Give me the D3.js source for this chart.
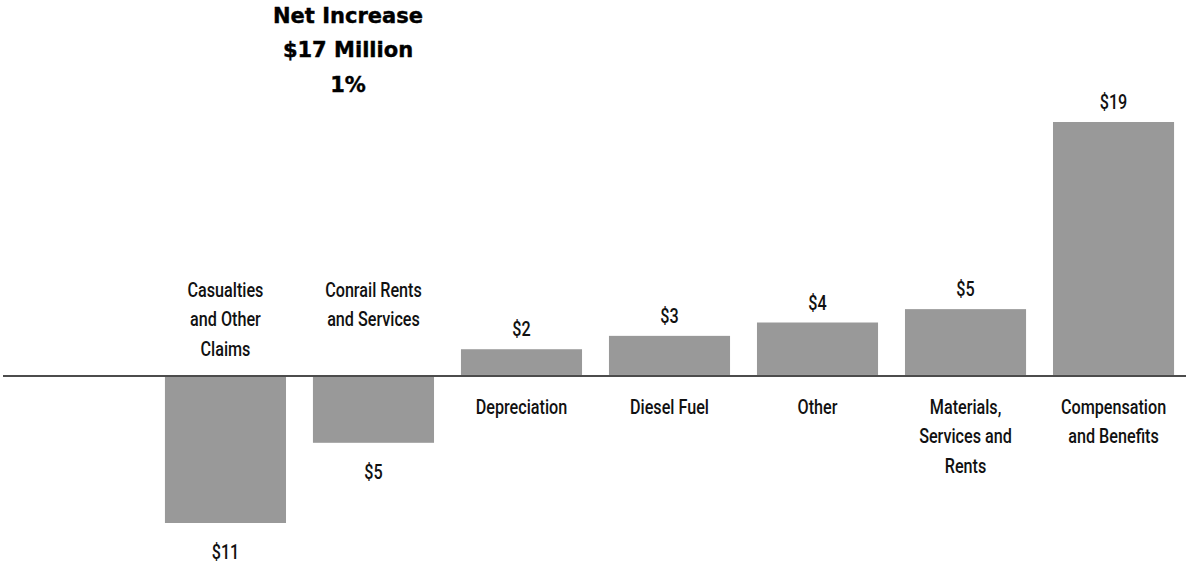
<!DOCTYPE html>
<html>
<head>
<meta charset="utf-8">
<script src="https://cdn.jsdelivr.net/npm/d3@7"></script>
<style>
  html, body { margin: 0; padding: 0; background: #fff; }
  svg { display: block; }
  .lbl { font-family: Roboto, "Liberation Sans", sans-serif; font-weight: 500; font-size: 21px; fill: #111; }
  .title { font-family: "DejaVu Sans", "Liberation Sans", sans-serif; font-weight: bold; font-size: 21px; fill: #000; stroke: #000; stroke-width: 0.4px; }
</style>
</head>
<body>
<svg id="chart" width="1186" height="568"></svg>
<script>
// Changes in operating expenses, $ millions
const categories = [
  ["Casualties", "and Other", "Claims"],
  ["Conrail Rents", "and Services"],
  ["Depreciation"],
  ["Diesel Fuel"],
  ["Other"],
  ["Materials,", "Services and", "Rents"],
  ["Compensation", "and Benefits"]
];
const values = [-11, -5, 2, 3, 4, 5, 19];
const valueLabels = ["$11", "$5", "$2", "$3", "$4", "$5", "$19"];
const titleLines = ["Net Increase", "$17 Million", "1%"];

const W = 1186, H = 568;
const narrow = 0.77; // horizontal squeeze for the condensed label face
const svg = d3.select("#chart");

const keys = categories.map((c, i) => i);
const x = d3.scaleBand()
  .domain(keys)
  .range([138, 1201])
  .paddingInner(0.182)
  .paddingOuter(0.182);

const y = d3.scaleLinear()
  .domain([-11, 19])
  .range([523, 122]);

const y0 = y(0);
const cx = i => x(i) + x.bandwidth() / 2;

// bars
svg.append("g").selectAll("rect")
  .data(values)
  .join("rect")
  .attr("x", (d, i) => x(i))
  .attr("width", x.bandwidth())
  .attr("y", d => d >= 0 ? y(d) : y0 + 1)
  .attr("height", d => d >= 0 ? Math.max(0, y0 - 1 - y(d)) : y(d) - y0 - 1)
  .attr("fill", "#999999");

// zero line
svg.append("line")
  .attr("x1", 3).attr("x2", W)
  .attr("y1", y0).attr("y2", y0)
  .attr("stroke", "#111").attr("stroke-width", 1.5);

// value labels
svg.append("g").selectAll("text")
  .data(values)
  .join("text")
  .attr("class", "lbl")
  .attr("text-anchor", "middle")
  .attr("transform", (d, i) => `translate(${cx(i)},${d >= 0 ? y(d) - 13 : y(d) + 36}) scale(${narrow},1)`)
  .text((d, i) => valueLabels[i]);

// category labels: above the line for decreases, below for increases
const lineH = 29.5;
const catG = svg.append("g").selectAll("text")
  .data(categories)
  .join("text")
  .attr("class", "lbl")
  .attr("text-anchor", "middle")
  .attr("transform", (d, i) => `translate(${cx(i)},${values[i] < 0 ? 297 : 414}) scale(${narrow},1)`);
catG.selectAll("tspan")
  .data(d => d)
  .join("tspan")
  .attr("x", 0)
  .attr("dy", (d, j) => j === 0 ? 0 : lineH)
  .text(d => d);

// headline
svg.append("g").selectAll("text")
  .data(titleLines)
  .join("text")
  .attr("class", "title")
  .attr("text-anchor", "middle")
  .attr("x", 348)
  .attr("y", (d, i) => [23, 57, 92][i])
  .text(d => d);
</script>
</body>
</html>
